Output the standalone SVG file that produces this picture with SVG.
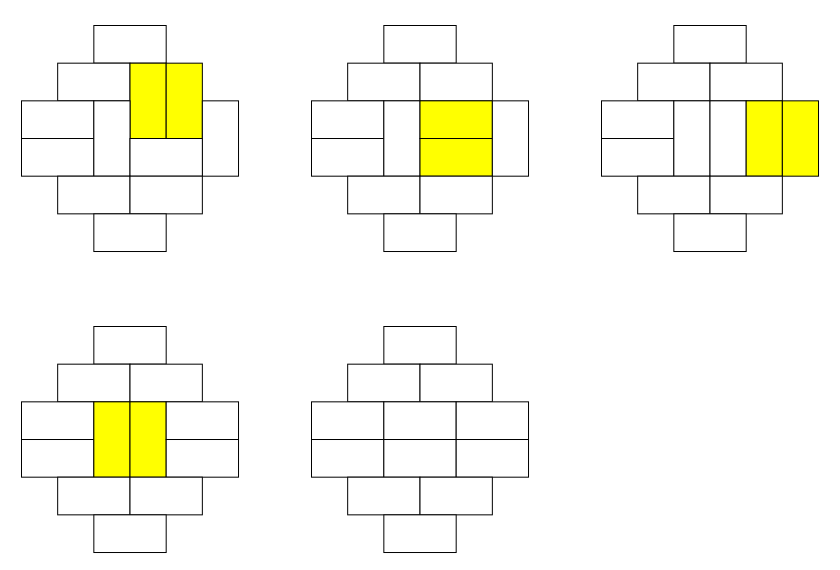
<svg xmlns="http://www.w3.org/2000/svg" width="840" height="570" viewBox="0 0 840 570">
<style>
rect.d{fill:#ffffff;stroke:#000000;stroke-width:1}
rect.y{fill:#ffff00;stroke:#000000;stroke-width:1}
</style>
<rect x="0" y="0" width="840" height="570" fill="#ffffff"/>
<g id="tiling1">
<rect id="t1-a" class="d" x="93.84" y="25.5" width="72.34" height="37.67"/>
<rect id="t1-b" class="d" x="57.67" y="63.17" width="72.34" height="37.67"/>
<rect id="t1-c" class="y" x="130.01" y="63.17" width="36.17" height="75.34"/>
<rect id="t1-d" class="y" x="166.18" y="63.17" width="36.17" height="75.34"/>
<rect id="t1-e" class="d" x="21.5" y="100.84" width="72.34" height="37.67"/>
<rect id="t1-f" class="d" x="21.5" y="138.51" width="72.34" height="37.67"/>
<rect id="t1-g" class="d" x="93.84" y="100.84" width="36.17" height="75.34"/>
<rect id="t1-h" class="d" x="202.35" y="100.84" width="36.17" height="75.34"/>
<rect id="t1-i" class="d" x="130.01" y="138.51" width="72.34" height="37.67"/>
<rect id="t1-j" class="d" x="57.67" y="176.18" width="72.34" height="37.67"/>
<rect id="t1-k" class="d" x="130.01" y="176.18" width="72.34" height="37.67"/>
<rect id="t1-l" class="d" x="93.84" y="213.85" width="72.34" height="37.67"/>
</g>
<g id="tiling2" transform="translate(290,0)">
<rect id="t2-a" class="d" x="93.84" y="25.5" width="72.34" height="37.67"/>
<rect id="t2-b" class="d" x="57.67" y="63.17" width="72.34" height="37.67"/>
<rect id="t2-c" class="d" x="130.01" y="63.17" width="72.34" height="37.67"/>
<rect id="t2-d" class="d" x="21.5" y="100.84" width="72.34" height="37.67"/>
<rect id="t2-e" class="d" x="21.5" y="138.51" width="72.34" height="37.67"/>
<rect id="t2-f" class="d" x="93.84" y="100.84" width="36.17" height="75.34"/>
<rect id="t2-g" class="y" x="130.01" y="100.84" width="72.34" height="37.67"/>
<rect id="t2-h" class="y" x="130.01" y="138.51" width="72.34" height="37.67"/>
<rect id="t2-i" class="d" x="202.35" y="100.84" width="36.17" height="75.34"/>
<rect id="t2-j" class="d" x="57.67" y="176.18" width="72.34" height="37.67"/>
<rect id="t2-k" class="d" x="130.01" y="176.18" width="72.34" height="37.67"/>
<rect id="t2-l" class="d" x="93.84" y="213.85" width="72.34" height="37.67"/>
</g>
<g id="tiling3" transform="translate(580,0)">
<rect id="t3-a" class="d" x="93.84" y="25.5" width="72.34" height="37.67"/>
<rect id="t3-b" class="d" x="57.67" y="63.17" width="72.34" height="37.67"/>
<rect id="t3-c" class="d" x="130.01" y="63.17" width="72.34" height="37.67"/>
<rect id="t3-d" class="d" x="21.5" y="100.84" width="72.34" height="37.67"/>
<rect id="t3-e" class="d" x="21.5" y="138.51" width="72.34" height="37.67"/>
<rect id="t3-f" class="d" x="93.84" y="100.84" width="36.17" height="75.34"/>
<rect id="t3-g" class="d" x="130.01" y="100.84" width="36.17" height="75.34"/>
<rect id="t3-h" class="y" x="166.18" y="100.84" width="36.17" height="75.34"/>
<rect id="t3-i" class="y" x="202.35" y="100.84" width="36.17" height="75.34"/>
<rect id="t3-j" class="d" x="57.67" y="176.18" width="72.34" height="37.67"/>
<rect id="t3-k" class="d" x="130.01" y="176.18" width="72.34" height="37.67"/>
<rect id="t3-l" class="d" x="93.84" y="213.85" width="72.34" height="37.67"/>
</g>
<g id="tiling4" transform="translate(0,301)">
<rect id="t4-a" class="d" x="93.84" y="25.5" width="72.34" height="37.67"/>
<rect id="t4-b" class="d" x="57.67" y="63.17" width="72.34" height="37.67"/>
<rect id="t4-c" class="d" x="130.01" y="63.17" width="72.34" height="37.67"/>
<rect id="t4-d" class="d" x="21.5" y="100.84" width="72.34" height="37.67"/>
<rect id="t4-e" class="d" x="21.5" y="138.51" width="72.34" height="37.67"/>
<rect id="t4-f" class="y" x="93.84" y="100.84" width="36.17" height="75.34"/>
<rect id="t4-g" class="y" x="130.01" y="100.84" width="36.17" height="75.34"/>
<rect id="t4-h" class="d" x="166.18" y="100.84" width="72.34" height="37.67"/>
<rect id="t4-i" class="d" x="166.18" y="138.51" width="72.34" height="37.67"/>
<rect id="t4-j" class="d" x="57.67" y="176.18" width="72.34" height="37.67"/>
<rect id="t4-k" class="d" x="130.01" y="176.18" width="72.34" height="37.67"/>
<rect id="t4-l" class="d" x="93.84" y="213.85" width="72.34" height="37.67"/>
</g>
<g id="tiling5" transform="translate(290,301)">
<rect id="t5-a" class="d" x="93.84" y="25.5" width="72.34" height="37.67"/>
<rect id="t5-b" class="d" x="57.67" y="63.17" width="72.34" height="37.67"/>
<rect id="t5-c" class="d" x="130.01" y="63.17" width="72.34" height="37.67"/>
<rect id="t5-d" class="d" x="21.5" y="100.84" width="72.34" height="37.67"/>
<rect id="t5-e" class="d" x="93.84" y="100.84" width="72.34" height="37.67"/>
<rect id="t5-f" class="d" x="166.18" y="100.84" width="72.34" height="37.67"/>
<rect id="t5-g" class="d" x="21.5" y="138.51" width="72.34" height="37.67"/>
<rect id="t5-h" class="d" x="93.84" y="138.51" width="72.34" height="37.67"/>
<rect id="t5-i" class="d" x="166.18" y="138.51" width="72.34" height="37.67"/>
<rect id="t5-j" class="d" x="57.67" y="176.18" width="72.34" height="37.67"/>
<rect id="t5-k" class="d" x="130.01" y="176.18" width="72.34" height="37.67"/>
<rect id="t5-l" class="d" x="93.84" y="213.85" width="72.34" height="37.67"/>
</g>
<g id="connectors"/>
</svg>
